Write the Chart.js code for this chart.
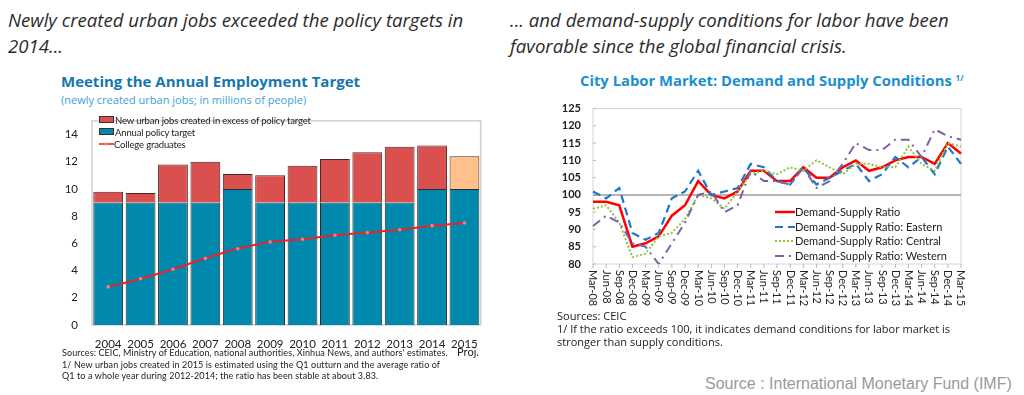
<!DOCTYPE html>
<html><head><meta charset="utf-8">
<script src="https://cdn.jsdelivr.net/npm/chart.js@4.4.0/dist/chart.umd.min.js"></script>
<style>
html,body{margin:0;padding:0;background:#fff;width:1024px;height:395px;overflow:hidden;position:relative;font-family:'Open Sans',sans-serif;}
.t{position:absolute;white-space:nowrap;line-height:1;}
.h{font-style:italic;font-size:18.6px;color:#2b2b2b;font-family:'Open Sans',sans-serif;}
canvas{position:absolute;}
</style></head><body>

<div class="t h" style="left:8px;top:11px;">Newly created urban jobs exceeded the policy targets in</div>
<div class="t h" style="left:8px;top:37px;">2014...</div>
<div class="t h" style="left:510px;top:11px;">... and demand-supply conditions for labor have been</div>
<div class="t h" style="left:510px;top:37px;">favorable since the global financial crisis.</div>

<div class="t" style="left:61px;top:74px;font-size:15px;font-weight:bold;color:#1677ae;">Meeting the Annual Employment Target</div>
<div class="t" style="left:61px;top:94px;font-size:11px;color:#3da0d8;">(newly created urban jobs; in millions of people)</div>

<div class="t" style="left:580px;top:73px;font-size:14.8px;font-weight:bold;color:#1a8fd0;">City Labor Market: Demand and Supply Conditions <span style="font-size:8px;vertical-align:5px;">1/</span></div>

<canvas id="cl" width="440" height="255" style="left:50px;top:100px;"></canvas>
<canvas id="cr" width="430" height="220" style="left:540px;top:90px;"></canvas>

<div id="legL" class="t" style="left:99px;top:115px;font-size:9.5px;color:#222;letter-spacing:-0.16px;line-height:12px;font-family:Lato,sans-serif;"></div>
<div id="legR" class="t" style="left:775px;top:205px;font-size:11px;color:#222;line-height:14.5px;font-family:Lato,sans-serif;"></div>

<div class="t" style="left:468px;top:346px;font-size:11px;color:#222;transform:translateX(-50%);font-family:Lato,sans-serif;">Proj.</div>
<div class="t" style="left:62px;top:347px;font-size:9px;color:#222;letter-spacing:0.1px;line-height:11.5px;font-family:Lato,sans-serif;">Sources: CEIC, Ministry of Education, national authorities, Xinhua News, and authors' estimates.<br>1/ New urban jobs created in 2015 is estimated using the Q1 outturn and the average ratio of<br>Q1 to a whole year during 2012-2014; the ratio has been stable at about 3.83.</div>

<div class="t" style="left:557px;top:309px;font-size:11px;color:#222;line-height:13px;">Sources: CEIC<br>1/ If the ratio exceeds 100, it indicates demand conditions for labor market is<br>stronger than supply conditions.</div>

<div class="t" style="left:705px;top:376px;font-size:16px;color:#9a9a9a;font-family:'Liberation Sans',Arial,sans-serif;">Source : International Monetary Fund (IMF)</div>

<script>
// ---------- Left chart data ----------
const years = ['2004','2005','2006','2007','2008','2009','2010','2011','2012','2013','2014','2015'];
const policyTarget = [9, 9, 9, 9, 10, 9, 9, 9, 9, 9, 10, 10];
const excessJobs = [0.8, 0.7, 2.8, 3.0, 1.1, 2.0, 2.7, 3.2, 3.7, 4.1, 3.2, 2.4];
const collegeGrads = [2.8, 3.4, 4.1, 4.9, 5.6, 6.1, 6.3, 6.6, 6.8, 7.0, 7.3, 7.5];
const leftTicks = [0, 2, 4, 6, 8, 10, 12, 14];

// ---------- Right chart data ----------
const quarters = ['Mar-08','Jun-08','Sep-08','Dec-08','Mar-09','Jun-09','Sep-09','Dec-09','Mar-10','Jun-10','Sep-10','Dec-10','Mar-11','Jun-11','Sep-11','Dec-11','Mar-12','Jun-12','Sep-12','Dec-12','Mar-13','Jun-13','Sep-13','Dec-13','Mar-14','Jun-14','Sep-14','Dec-14','Mar-15'];
const ratioAll = [98, 98, 97, 85, 86, 88, 94, 97, 104, 100, 99, 101, 107, 107, 104, 104, 108, 105, 105, 108, 110, 107, 108, 110, 111, 111, 109, 115, 112];
const ratioEastern = [101, 99, 102, 89, 87, 89, 99, 101, 107, 100, 101, 102, 109, 108, 104, 103, 108, 103, 105, 107, 109, 104, 106, 111, 108, 111, 106, 114, 109];
const ratioCentral = [96, 97, 92, 82, 83, 88, 89, 93, 100, 99, 96, 101, 106, 107, 106, 108, 107, 110, 108, 106, 109, 109, 108, 108, 114, 109, 107, 115, 114];
const ratioWestern = [91, 94, 92, 86, 85, 80, 86, 92, 100, 101, 95, 97, 107, 104, 104, 103, 108, 102, 104, 109, 115, 113, 113, 116, 116, 111, 119, 117, 116];
const rightTicks = [80, 85, 90, 95, 100, 105, 110, 115, 120, 125];

const C = {
  teal:'#0089ad', red:'#d9504e', orange:'#ffc08c', grad:'#e8232a',
  all:'#ff0000', east:'#1f77c9', central:'#8cc63e', west:'#7f5fa8'
};

// ---------- Left legend (HTML) ----------
const legL = [
  ['New urban jobs created in excess of policy target','box',C.red],
  ['Annual policy target','box',C.teal],
  ['College graduates','line',C.grad]
];
document.getElementById('legL').innerHTML = legL.map(([t,k,c]) => {
  const sw = k==='box'
    ? `<span style="display:inline-block;width:13px;height:5px;background:${c};border:1px solid #333;vertical-align:1px;margin-right:1px;"></span>`
    : `<svg width="15" height="6" style="vertical-align:1px;"><line x1="0" y1="3" x2="15" y2="3" stroke="${c}" stroke-width="1.6"/><circle cx="7.5" cy="3" r="1.6" fill="#f08080"/></svg>`;
  return `<div>${sw}${t}</div>`;
}).join('');

// ---------- Right legend (HTML) ----------
const legR = [
  ['Demand-Supply Ratio', C.all, '', 2.5],
  ['Demand-Supply Ratio: Eastern', C.east, '8 5', 2.2],
  ['Demand-Supply Ratio: Central', C.central, '2 2', 2],
  ['Demand-Supply Ratio: Western', C.west, '9 5 2 5', 2]
];
document.getElementById('legR').innerHTML = legR.map(([t,c,d,w]) =>
  `<div><svg width="20" height="6" style="vertical-align:1px;"><line x1="0" y1="3" x2="20" y2="3" stroke="${c}" stroke-width="${w}" stroke-dasharray="${d}"/></svg>${t}</div>`
).join('');

// ---------- Left chart ----------
const frameL = {
  id:'frameL',
  beforeDatasetsDraw(ch){
    const a = ch.chartArea, x = ch.ctx;
    x.save(); x.strokeStyle = '#cfcfcf'; x.lineWidth = 1.5;
    x.strokeRect(a.left, a.top, a.right - a.left, a.bottom - a.top);
    x.restore();
  }
};
new Chart(document.getElementById('cl'), {
  type:'bar',
  data:{
    labels: years,
    datasets:[
      { label:'Annual policy target', data: policyTarget, backgroundColor:C.teal, borderColor:'#2a2a2a',
        borderWidth:1, stack:'s', order:1, categoryPercentage:0.92, barPercentage:1 },
      { label:'New urban jobs created in excess of policy target', data: excessJobs,
        backgroundColor: years.map(y => y === '2015' ? C.orange : C.red), borderColor:'#4a2626',
        borderWidth:1, stack:'s', order:1, categoryPercentage:0.92, barPercentage:1 },
      { type:'line', label:'College graduates', data: collegeGrads, borderColor:C.grad, borderWidth:2,
        pointRadius:1.8, pointBackgroundColor:'#f08080', pointBorderWidth:0, tension:0.25, stack:'ln', order:0 }
    ]
  },
  options:{
    animation:false, responsive:false, events:[],
    plugins:{ legend:{display:false}, tooltip:{enabled:false} },
    layout:{ padding:{ top:12, right:5, left:0, bottom:0 } },
    scales:{
      x:{ stacked:true, grid:{display:false, drawTicks:false}, border:{display:false},
          ticks:{ padding:12, color:'#222', font:{family:'Lato', size:11.5} },
          afterFit(s){ s.height = 30; } },
      y:{ stacked:true, min:0, max:15, grid:{display:false, drawTicks:false}, border:{display:false},
          afterBuildTicks(s){ s.ticks = leftTicks.map(v => ({value:v})); },
          ticks:{ padding:14, color:'#222', font:{family:'Lato', size:11.5} },
          afterFit(s){ s.width = 42; } }
    }
  },
  plugins:[frameL]
});

// ---------- Right chart ----------
const decoR = {
  id:'decoR',
  beforeDatasetsDraw(ch){
    const a = ch.chartArea, x = ch.ctx, ys = ch.scales.y, xs = ch.scales.x;
    x.save();
    x.strokeStyle = '#d6d6d6'; x.lineWidth = 1;
    x.strokeRect(a.left, a.top, a.right - a.left, a.bottom - a.top);
    x.strokeStyle = '#b8b8b8';
    rightTicks.forEach(v => { const y = ys.getPixelForValue(v); x.beginPath(); x.moveTo(a.left, y); x.lineTo(a.left + 3, y); x.stroke(); });
    quarters.forEach((q,i) => { const px = xs.getPixelForValue(i); x.beginPath(); x.moveTo(px, a.bottom); x.lineTo(px, a.bottom + 4); x.stroke(); });
    const y100 = ys.getPixelForValue(100);
    x.strokeStyle = '#9e9e9e'; x.lineWidth = 1.5;
    x.beginPath(); x.moveTo(a.left, y100); x.lineTo(a.right, y100); x.stroke();
    x.restore();
  },
  afterDraw(ch){
    const a = ch.chartArea, x = ch.ctx, xs = ch.scales.x;
    x.save();
    x.fillStyle = '#222'; x.font = '11px Lato'; x.textAlign = 'left'; x.textBaseline = 'middle';
    quarters.forEach((q,i) => {
      const px = xs.getPixelForValue(i);
      x.save(); x.translate(px, a.bottom + 6); x.rotate(Math.PI / 2); x.fillText(q, 0, 0); x.restore();
    });
    x.restore();
  }
};
const lineDs = (label, data, color, dash, width) => ({
  label, data, borderColor:color, borderDash:dash, borderWidth:width,
  pointRadius:0, tension:0, fill:false
});
new Chart(document.getElementById('cr'), {
  type:'line',
  data:{
    labels: quarters,
    datasets:[
      lineDs('Demand-Supply Ratio: Western', ratioWestern, C.west, [9,5,2,5], 2),
      lineDs('Demand-Supply Ratio: Central', ratioCentral, C.central, [2,2], 2),
      lineDs('Demand-Supply Ratio: Eastern', ratioEastern, C.east, [8,5], 2.2),
      lineDs('Demand-Supply Ratio', ratioAll, C.all, [], 2.5)
    ]
  },
  options:{
    animation:false, responsive:false, events:[],
    plugins:{ legend:{display:false}, tooltip:{enabled:false} },
    layout:{ padding:{ top:12, right:9, left:0, bottom:0 } },
    scales:{
      x:{ grid:{display:false, drawTicks:false}, border:{display:false}, ticks:{display:false},
          afterFit(s){ s.height = 46; } },
      y:{ min:80, max:125, grid:{display:false, drawTicks:false}, border:{display:false},
          afterBuildTicks(s){ s.ticks = rightTicks.map(v => ({value:v})); },
          ticks:{ padding:12, color:'#222', font:{family:'Lato', size:11, weight:'bold'} },
          afterFit(s){ s.width = 53; } }
    }
  },
  plugins:[decoR]
});
</script>
</body></html>
